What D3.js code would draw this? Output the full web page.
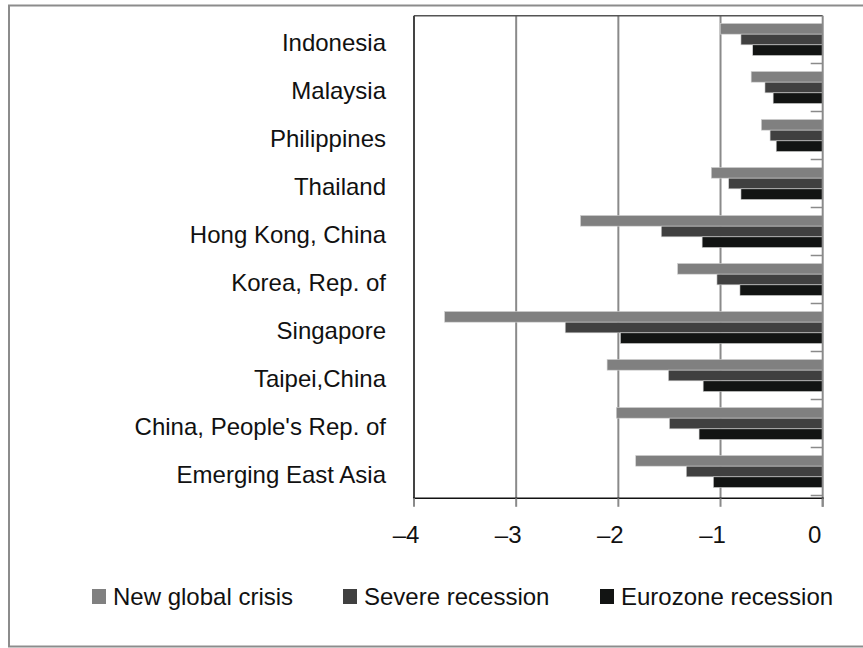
<!DOCTYPE html>
<html>
<head>
<meta charset="utf-8">
<script src="https://cdn.jsdelivr.net/npm/d3@7"></script>
<style>
  html, body { margin: 0; padding: 0; background: #fff; }
  svg { display: block; }
  text { font-family: "Liberation Sans", Arial, sans-serif; fill: #111; }
</style>
</head>
<body>
<svg id="chart" width="863" height="648"></svg>
<script>
const categories = ["Indonesia", "Malaysia", "Philippines", "Thailand", "Hong Kong, China",
  "Korea, Rep. of", "Singapore", "Taipei,China", "China, People's Rep. of", "Emerging East Asia"];
const seriesNames = ["New global crisis", "Severe recession", "Eurozone recession"];
const newGlobalCrisis   = [-1.00, -0.70, -0.60, -1.09, -2.37, -1.42, -3.70, -2.11, -2.02, -1.83];
const severeRecession   = [-0.80, -0.565, -0.515, -0.92, -1.58, -1.035, -2.52, -1.51, -1.50, -1.335];
const eurozoneRecession = [-0.685, -0.485, -0.455, -0.80, -1.18, -0.81, -1.98, -1.17, -1.21, -1.07];
const xTicks = [-4, -3, -2, -1, 0];
const xTickLabels = ["\u20134", "\u20133", "\u20132", "\u20131", "0"];
const colors = ["#808080", "#404040", "#121413"];

(function () {
const seriesValues = [newGlobalCrisis, severeRecession, eurozoneRecession];
const svg = d3.select("#chart");

// outer frame
svg.append("rect").attr("x", 9).attr("y", 5.5).attr("width", 900).attr("height", 641)
  .attr("fill", "none").attr("stroke", "#8c8c8c").attr("stroke-width", 2);

const pLeft = 414, pRight = 822.7, pTop = 15.7, pBottom = 498.3;
const x = d3.scaleLinear().domain([-4, 0]).range([pLeft, pRight]);
const y = d3.scaleBand().domain(categories).range([15.5, 495.5]).paddingInner(0).paddingOuter(0);
const bw = y.bandwidth();
const sub = d3.scaleBand().domain(d3.range(3)).range([bw / 6, bw * 5 / 6]);

// gridlines
svg.append("g").selectAll("line").data([-3, -2, -1]).join("line")
  .attr("x1", d => x(d)).attr("x2", d => x(d)).attr("y1", pTop).attr("y2", pBottom)
  .attr("stroke", "#8a8a8a").attr("stroke-width", 2);

// plot frame (top & left)
svg.append("line").attr("x1", pLeft).attr("x2", pRight).attr("y1", pTop).attr("y2", pTop)
  .attr("stroke", "#555").attr("stroke-width", 1.5);
svg.append("line").attr("x1", pLeft).attr("x2", pLeft).attr("y1", pTop).attr("y2", pBottom)
  .attr("stroke", "#444").attr("stroke-width", 2);

// bars
const rows = categories.map((c, i) => ({ c, vals: seriesValues.map(s => s[i]) }));
const g = svg.append("g").selectAll("g").data(rows).join("g")
  .attr("transform", d => `translate(0,${y(d.c)})`);
g.selectAll("rect").data(d => d.vals.map((v, k) => ({ v, k }))).join("rect")
  .attr("x", d => x(d.v))
  .attr("y", d => sub(d.k))
  .attr("width", d => x(0) - x(d.v))
  .attr("height", sub.bandwidth())
  .attr("fill", d => colors[d.k])
  .attr("stroke", "#cfcfcf").attr("stroke-width", 0.6);

// right axis (value 0) with category ticks
svg.append("line").attr("x1", x(0)).attr("x2", x(0)).attr("y1", pTop).attr("y2", pBottom + 8.5)
  .attr("stroke", "#8a8a8a").attr("stroke-width", 2);
svg.append("g").selectAll("line").data(d3.range(1, categories.length + 1)).join("line")
  .attr("x1", x(0) - 12).attr("x2", x(0))
  .attr("y1", k => 15.5 + k * bw).attr("y2", k => 15.5 + k * bw)
  .attr("stroke", "#8a8a8a").attr("stroke-width", 1.5);

// bottom axis
svg.append("line").attr("x1", pLeft - 1).attr("x2", pRight + 1).attr("y1", pBottom).attr("y2", pBottom)
  .attr("stroke", "#111").attr("stroke-width", 1.5);
svg.append("g").selectAll("line").data(xTicks).join("line")
  .attr("x1", d => x(d)).attr("x2", d => x(d)).attr("y1", pBottom).attr("y2", pBottom + 8.5)
  .attr("stroke", "#8a8a8a").attr("stroke-width", 2);
svg.append("g").selectAll("text").data(xTicks).join("text")
  .attr("x", d => x(d) - 8).attr("y", 543)
  .attr("text-anchor", "middle").attr("font-size", 24)
  .text((d, i) => xTickLabels[i]);

// category labels
svg.append("g").selectAll("text").data(categories).join("text")
  .attr("x", 386).attr("y", d => y(d) + bw / 2 + 11.5)
  .attr("text-anchor", "end").attr("font-size", 24)
  .text(d => d);

// legend
const legX = [92, 343, 600];
const lg = svg.append("g").selectAll("g").data(seriesNames).join("g")
  .attr("transform", (d, i) => `translate(${legX[i]},0)`);
lg.append("rect").attr("x", 0).attr("y", 589).attr("width", 14).attr("height", 15)
  .attr("fill", (d, i) => colors[i]);
lg.append("text").attr("x", 21).attr("y", 605).attr("font-size", 24).text(d => d);
})();
</script>
</body>
</html>
